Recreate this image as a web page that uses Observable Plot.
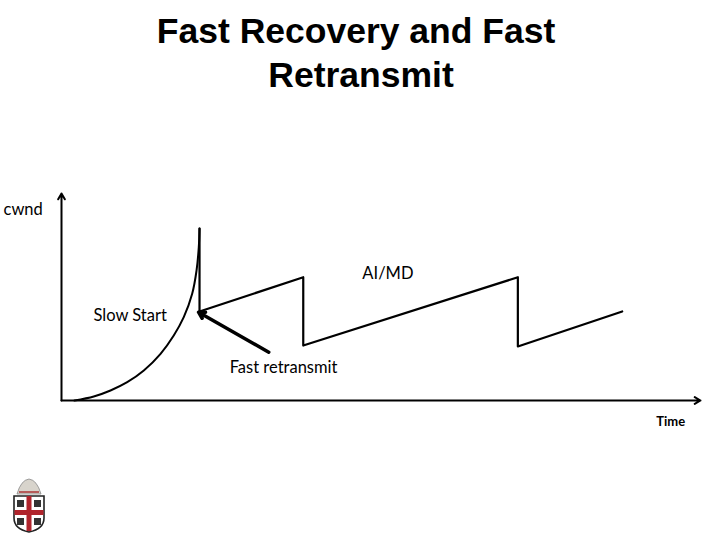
<!DOCTYPE html>
<html>
<head>
<meta charset="utf-8">
<script src="https://cdn.jsdelivr.net/npm/d3@7"></script>
<script src="https://cdn.jsdelivr.net/npm/@observablehq/plot@0.6"></script>
<style>
  html, body { margin: 0; padding: 0; background: #fff; }
  #page { position: relative; width: 720px; height: 540px; overflow: hidden; }
  #title { height: 130px; box-sizing: border-box; padding-top: 9px; font-family: "Liberation Sans", Arial, sans-serif; font-weight: bold; font-size: 35.5px; line-height: 44px; color: #000; text-align: center; width: 722px; }
  #title div { white-space: pre; }
  #logo { position: absolute; left: 11px; top: 474px; }
</style>
</head>
<body>
<div id="page">
  <div id="title"><div>Fast Recovery and Fast&#160;</div><div>Retransmit</div></div>
  <div id="chart"></div>
  <svg id="logo" width="36" height="60" viewBox="0 0 36 60">
    <path d="M6 20 Q10 6 18 5 Q26 6 30 20 Z" fill="#d8d4cc" stroke="#888" stroke-width="0.8"/>
    <path d="M8 18 L28 18" stroke="#a33" stroke-width="1.5"/>
    <path d="M3 22 L33 22 L33 44 Q33 55 18 58 Q3 55 3 44 Z" fill="#fff" stroke="#222" stroke-width="1.6"/>
    <rect x="15.5" y="22" width="5" height="35" fill="#b0242c"/>
    <rect x="3.5" y="36" width="29" height="5" fill="#b0242c"/>
    <rect x="6" y="26" width="7" height="7" fill="#333"/>
    <rect x="23" y="26" width="7" height="7" fill="#333"/>
    <rect x="6" y="44" width="7" height="7" fill="#333"/>
    <rect x="23" y="44" width="7" height="7" fill="#333"/>
  </svg>
</div>
<script>
// ---- data (time units on x, cwnd units on y) ----
const axisMaxT = 60;
const axisMaxC = 20;

const slowStartT = [1.22, 3.03, 4.60, 6.17, 7.73, 9.30, 10.54, 11.48, 12.27, 12.68, 12.89, 12.96];
const slowStartC = [0.00, 0.39, 0.97, 1.77, 2.90, 4.51, 6.28, 8.05, 10.31, 12.56, 14.81, 16.62];

const aimdT = [12.96, 12.96, 22.70, 22.70, 42.85, 42.85, 52.65];
const aimdC = [16.62, 8.60, 11.91, 5.31, 11.91, 5.22, 8.60];

const fastRetransmitT = [19.46, 12.87];
const fastRetransmitC = [4.67, 8.53];

const labelText = ["AI/MD", "Slow Start", "Fast retransmit"];
const labelT = [30.65, 6.45, 20.85];
const labelC = [12.27, 8.21, 3.19];

const axisLabelText = ["cwnd", "Time"];
const axisLabelT = [-3.6, 57.2];
const axisLabelC = [18.45, -2.1];

// ---- build tables ----
const slowStart = slowStartT.map((t, i) => ({t, c: slowStartC[i]}));
const aimd = aimdT.map((t, i) => ({t, c: aimdC[i]}));
const fastArrow = [{t1: fastRetransmitT[0], c1: fastRetransmitC[0], t2: fastRetransmitT[1], c2: fastRetransmitC[1]}];
const axes = [
  {t1: 0, c1: 0, t2: axisMaxT, c2: 0},
  {t1: 0, c1: 0, t2: 0, c2: axisMaxC}
];
const labels = labelText.map((s, i) => ({s, t: labelT[i], c: labelC[i]}));
const axisLabels = axisLabelText.map((s, i) => ({s, t: axisLabelT[i], c: axisLabelC[i]}));

const font = "Lato, 'Open Sans', sans-serif";

const chart = Plot.plot({
  width: 720,
  height: 410,
  marginLeft: 61,
  marginRight: 20,
  marginTop: 63,
  marginBottom: 140,
  x: {domain: [0, axisMaxT], axis: null},
  y: {domain: [0, axisMaxC], axis: null},
  style: {fontFamily: font, background: "white", overflow: "visible"},
  marks: [
    Plot.arrow(axes, {x1: "t1", y1: "c1", x2: "t2", y2: "c2", stroke: "black", strokeWidth: 2, headLength: 5}),
    Plot.line(slowStart, {x: "t", y: "c", curve: "catmull-rom", stroke: "black", strokeWidth: 2}),
    Plot.line(aimd, {x: "t", y: "c", stroke: "black", strokeWidth: 2.2}),
    Plot.arrow(fastArrow, {x1: "t1", y1: "c1", x2: "t2", y2: "c2", stroke: "black", strokeWidth: 3.5, headLength: 3}),
    Plot.text(labels, {x: "t", y: "c", text: "s", fontSize: 16.5, fill: "black"}),
    Plot.text(axisLabels.slice(0, 1), {x: "t", y: "c", text: "s", fontSize: 16.5, fill: "black"}),
    Plot.text(axisLabels.slice(1), {x: "t", y: "c", text: "s", fontSize: 13, fontWeight: "bold", fill: "black"})
  ]
});
document.getElementById("chart").appendChild(chart);
</script>
</body>
</html>
